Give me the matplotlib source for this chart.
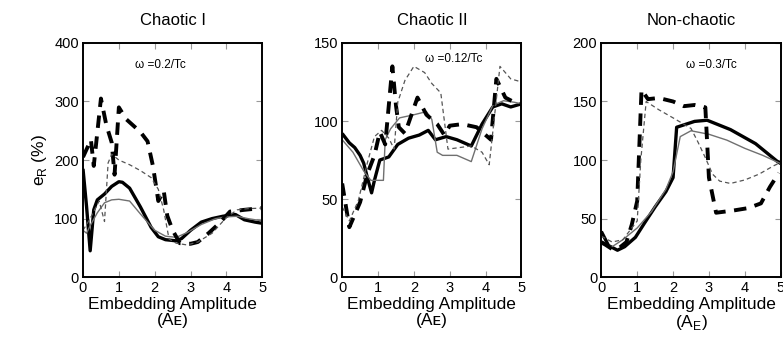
import matplotlib
matplotlib.use('Agg')
import matplotlib.pyplot as plt

plt.rcParams['font.family'] = ['Liberation Sans', 'DejaVu Sans']

titles = ['Chaotic I', 'Chaotic II', 'Non-chaotic']
omega_labels = ['\u03c9 =0.2/Tc', '\u03c9 =0.12/Tc', '\u03c9 =0.3/Tc']
omega_pos = [(1.45, 362), (2.32, 140), (2.37, 181)]
ymax = [400, 150, 200]
yticks = [[0, 100, 200, 300, 400], [0, 50, 100, 150], [0, 50, 100, 150, 200]]
xticks = [0, 1, 2, 3, 4, 5]
xlabels = ['Embedding Amplitude\n(A\u1d07)', 'Embedding Amplitude\n(A\u1d07)',
           'Embedding Amplitude\n(A$_\\mathregular{E}$)']

# Chaotic I
p1_thick_x = [0, 0.1, 0.2, 0.3, 0.4, 0.6, 0.8, 1.0, 1.1, 1.3, 1.6, 1.9, 2.1, 2.3,
              2.6, 2.75, 3.0, 3.3, 3.6, 3.9, 4.25, 4.5, 4.8, 5.0]
p1_thick_y = [185, 120, 45, 115, 132, 142, 155, 163, 162, 152, 120, 85, 69, 64,
              62, 66, 80, 94, 100, 104, 107, 98, 94, 92]
p1_thin_x = [0, 0.1, 0.2, 0.4, 0.6, 0.8, 1.0, 1.3, 1.6, 2.0, 2.3, 2.6, 2.9, 3.3,
             3.7, 4.0, 4.3, 4.6, 5.0]
p1_thin_y = [80, 75, 88, 110, 127, 132, 133, 130, 108, 80, 70, 68, 76, 90,
             100, 103, 104, 100, 96]
p1_dash_x = [0, 0.15, 0.22, 0.3, 0.5, 0.65, 0.8, 0.88, 1.0, 1.2, 1.6, 1.8, 1.95,
             2.1, 2.25, 2.35, 2.5, 2.7, 3.0, 3.2, 3.5, 3.8, 4.1, 4.5, 5.0]
p1_dash_y = [205, 225, 235, 190, 305, 260, 230, 175, 290, 270, 248, 232, 190,
             130, 148, 105, 80, 58, 57, 60, 75, 92, 112, 115, 118]
p1_tdash_x = [0, 0.2, 0.45, 0.6, 0.7, 0.8, 1.0, 1.3, 1.6, 1.9, 2.1, 2.25, 2.4,
              2.6, 2.9, 3.2, 3.6, 4.0, 4.3, 4.6, 5.0]
p1_tdash_y = [80, 100, 130, 95, 195, 210, 200, 192, 182, 170, 150, 115, 65,
              58, 55, 60, 75, 102, 115, 117, 118]

# Chaotic II
p2_thick_x = [0, 0.2, 0.35, 0.5, 0.6, 0.7, 0.82, 0.9, 1.05, 1.3, 1.55, 1.85, 2.15,
              2.4, 2.6, 2.9, 3.2, 3.6, 3.9, 4.2, 4.45, 4.7, 5.0]
p2_thick_y = [92, 86, 83, 78, 73, 64, 54, 62, 75, 77, 85, 89, 91,
              94, 88, 90, 88, 84, 98, 109, 111, 109, 111]
p2_thin_x = [0, 0.3, 0.6, 0.8, 1.15, 1.2, 1.35, 1.6, 2.0, 2.35, 2.5, 2.65, 2.8,
             3.2, 3.6, 3.9, 4.2, 4.5, 4.8, 5.0]
p2_thin_y = [88, 80, 68, 62, 62, 88, 95, 102, 104, 106, 101, 80, 78,
             78, 74, 95, 110, 113, 112, 111]
p2_dash_x = [0, 0.2, 0.5, 0.7, 0.9, 1.05, 1.2, 1.4, 1.5, 1.58, 1.75, 2.1, 2.35,
             2.65, 2.85, 3.0, 3.35, 3.75, 4.15, 4.3, 4.55, 4.8, 5.0]
p2_dash_y = [60, 32, 48, 66, 78, 93, 85, 135, 110, 96, 92, 115, 104,
             98, 91, 97, 98, 96, 88, 127, 115, 112, 111]
p2_tdash_x = [0, 0.2, 0.45, 0.7, 0.9, 1.1, 1.3, 1.45, 1.55, 1.75, 2.0, 2.3, 2.5,
              2.75, 2.85, 2.95, 3.6, 3.9, 4.1, 4.4, 4.7, 5.0]
p2_tdash_y = [45, 36, 49, 73, 90, 94, 89, 82, 112, 126, 135, 131, 124,
              118, 100, 82, 84, 80, 72, 135, 127, 125]

# Non-chaotic
p3_thick_x = [0, 0.2, 0.45, 0.65, 0.95, 1.2, 1.5, 1.8, 2.0, 2.1, 2.6, 2.95, 3.6,
              4.3, 4.9, 5.0]
p3_thick_y = [39, 27, 23, 26, 34, 46, 60, 73, 85, 128, 133, 134, 126,
              114, 99, 97]
p3_thin_x = [0, 0.3, 0.6, 1.0, 1.4, 1.8, 2.0, 2.2, 2.5, 3.0, 3.5, 4.0, 4.5, 5.0]
p3_thin_y = [28, 26, 32, 42, 56, 75, 90, 120, 125, 122, 117, 110, 104, 97]
p3_dash_x = [0, 0.3, 0.5, 0.7, 0.85, 1.0, 1.12, 1.3, 1.6, 2.0, 2.3, 2.6, 2.9,
             3.0, 3.2, 3.7, 4.1, 4.45, 4.7, 4.95]
p3_dash_y = [30, 24, 25, 30, 45, 65, 160, 152, 153, 150, 146, 147, 145,
             85, 55, 57, 59, 63, 77, 89]
p3_tdash_x = [0, 0.3, 0.6, 1.0, 1.1, 1.25, 1.6, 2.0, 2.5, 2.7, 2.9, 3.1, 3.3,
              3.6, 4.0, 4.4, 4.8, 5.0]
p3_tdash_y = [35, 30, 32, 48, 100, 150, 143, 136, 127, 115, 102, 88, 82,
              80, 83, 88, 95, 98]

series = [
    [(p1_thick_x, p1_thick_y), (p1_thin_x, p1_thin_y), (p1_dash_x, p1_dash_y), (p1_tdash_x, p1_tdash_y)],
    [(p2_thick_x, p2_thick_y), (p2_thin_x, p2_thin_y), (p2_dash_x, p2_dash_y), (p2_tdash_x, p2_tdash_y)],
    [(p3_thick_x, p3_thick_y), (p3_thin_x, p3_thin_y), (p3_dash_x, p3_dash_y), (p3_tdash_x, p3_tdash_y)],
]
styles = [
    dict(color='black', lw=2.4, ls='-'),
    dict(color='#707070', lw=1.0, ls='-'),
    dict(color='black', lw=2.8, ls=(0, (3.2, 2.2))),
    dict(color='#555555', lw=0.9, ls=(0, (3.5, 2.5))),
]

fig = plt.figure(figsize=(7.83, 3.38), dpi=100)
lefts = [0.106, 0.437, 0.768]
for i in range(3):
    ax = fig.add_axes([lefts[i], 0.180, 0.229, 0.693])
    for (sx, sy), st in zip(series[i], styles):
        ax.plot(sx, sy, **st, solid_capstyle='butt', dash_capstyle='butt')
    ax.set_xlim(0, 5)
    ax.set_ylim(0, ymax[i])
    ax.set_xticks(xticks)
    ax.set_yticks(yticks[i])
    ax.tick_params(direction='in', top=True, right=True, length=4, width=0.8,
                   color='#999999', labelsize=10.5, pad=3)
    for sp in ax.spines.values():
        sp.set_linewidth(1.4)
    ax.set_title(titles[i], fontsize=12, pad=13)
    ax.set_xlabel(xlabels[i], fontsize=12.5, labelpad=1, linespacing=1.1)
    ax.text(omega_pos[i][0], omega_pos[i][1], omega_labels[i], fontsize=8.5,
            ha='left', va='center')
    if i == 0:
        ax.set_ylabel(r'e$_\mathregular{R}$ (%)', fontsize=12.5, labelpad=4)

plt.savefig('out.png', dpi=100)
